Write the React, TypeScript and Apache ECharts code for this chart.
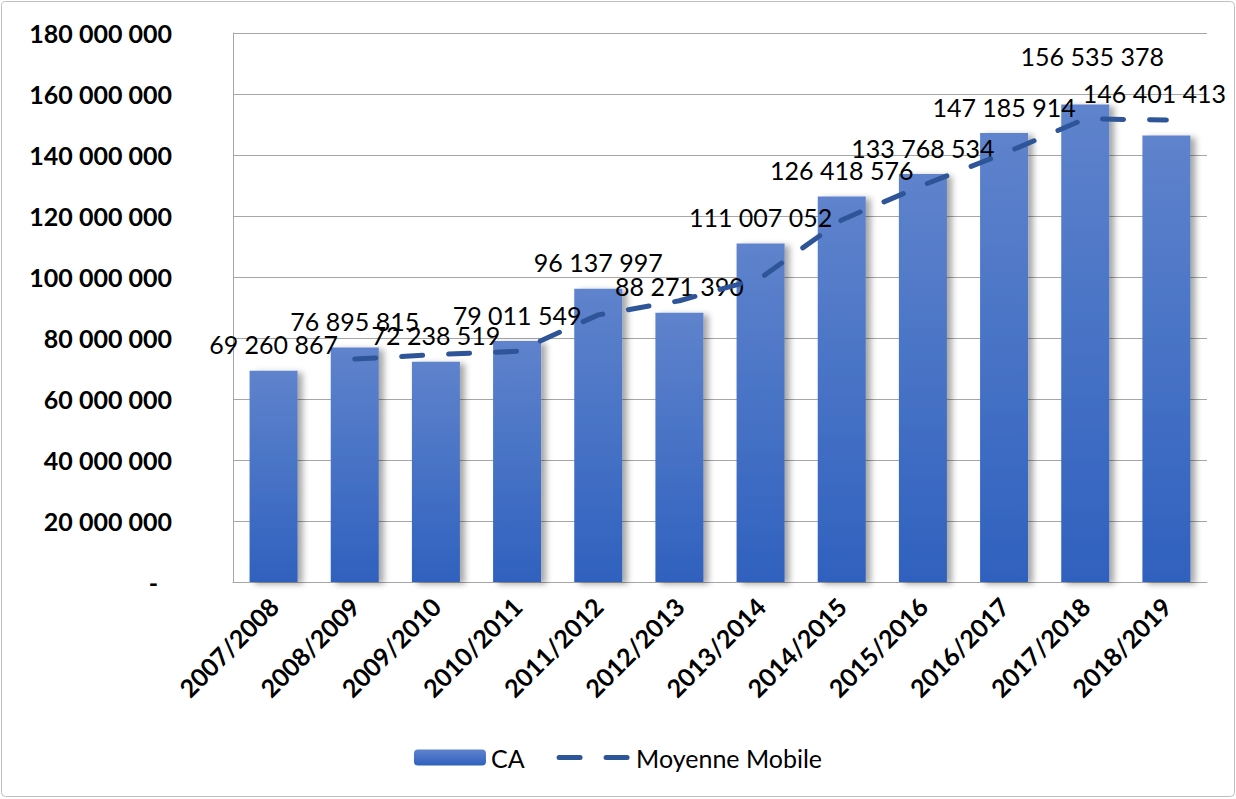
import React, { useEffect, useRef } from "react";
import * as echarts from "echarts";

const categories = [
  "2007/2008", "2008/2009", "2009/2010", "2010/2011", "2011/2012", "2012/2013",
  "2013/2014", "2014/2015", "2015/2016", "2016/2017", "2017/2018", "2018/2019",
];
const caValues = [
  69260867, 76895815, 72238519, 79011549, 96137997, 88271390,
  111007052, 126418576, 133768534, 147185914, 156535378, 146401413,
];
const movingAverage = [
  null, 73078341, 74567167, 75625034, 87574773, 92204694,
  99639221, 118712814, 130093555, 140477224, 151860646, 151468396,
];
const yMin = 0;
const yMax = 180000000;
const yStep = 20000000;

const fmt = (v: number) =>
  Math.round(v).toString().replace(/\B(?=(\d{3})+(?!\d))/g, " ");

const labelShift: Record<number, [number, number]> = {
  10: [7, -22],
  11: [-12, -16],
};

const lineStyleMA = {
  color: "#2E5597",
  width: 5,
  type: [21, 26] as number[],
  cap: "round",
};

export default function App() {
  const ref = useRef<HTMLDivElement>(null);
  useEffect(() => {
    document.body.style.margin = "0";
    const chart = echarts.init(ref.current!, null, { renderer: "svg" });
    const barGradient = new echarts.graphic.LinearGradient(0, 0, 0, 1, [
      { offset: 0, color: "#5F83CC" },
      { offset: 1, color: "#2F61BE" },
    ]);
    chart.setOption({
      animation: false,
      textStyle: { fontFamily: "Lato" },
      graphic: [
        {
          type: "rect",
          shape: { x: 1.5, y: 1.5, width: 1233, height: 795, r: 4 },
          style: { fill: "none", stroke: "#BFBFBF", lineWidth: 1 },
          silent: true,
        },
      ],
      grid: { left: 233, right: 29, top: 33, bottom: 217, containLabel: false },
      legend: {
        bottom: 24,
        left: "center",
        itemWidth: 72,
        itemHeight: 16,
        itemGap: 32,
        textStyle: { fontFamily: "Lato", fontSize: 25, color: "#000" },
        data: [
          { name: "CA" },
          {
            name: "Moyenne Mobile",
            itemStyle: { opacity: 0 },
            lineStyle: { ...lineStyleMA },
          },
        ],
      },
      xAxis: {
        type: "category",
        data: categories,
        axisLine: { show: true, lineStyle: { color: "#A6A6A6", width: 1 } },
        axisTick: { show: false },
        axisLabel: {
          rotate: 45,
          margin: 20,
          interval: 0,
          fontFamily: "Lato",
          fontWeight: "bold",
          fontSize: 25,
          color: "#000",
        },
      },
      yAxis: {
        type: "value",
        min: yMin,
        max: yMax,
        interval: yStep,
        axisLine: { show: true, lineStyle: { color: "#A6A6A6", width: 1 } },
        axisTick: { show: false },
        splitLine: { lineStyle: { color: "#A6A6A6", width: 1 } },
        axisLabel: {
          margin: 61,
          fontFamily: "Lato",
          fontWeight: "bold",
          fontSize: 25,
          color: "#000",
          formatter: (v: number) => (v === 0 ? "{d|-}" : fmt(v)),
          rich: {
            d: {
              fontFamily: "Lato",
              fontWeight: "bold",
              fontSize: 25,
              color: "#000",
              padding: [0, 14, 0, 0],
            },
          },
        },
      },
      series: [
        {
          name: "CA",
          type: "bar",
          barWidth: 48,
          data: caValues.map((v, i) =>
            labelShift[i]
              ? { value: v, label: { offset: labelShift[i] } }
              : { value: v }
          ),
          itemStyle: {
            color: barGradient,
            shadowColor: "rgba(0,0,0,0.35)",
            shadowBlur: 6,
            shadowOffsetX: 5,
            shadowOffsetY: 2,
          },
          label: {
            show: true,
            position: "top",
            distance: 14,
            fontFamily: "Lato",
            fontSize: 25,
            color: "#000",
            formatter: (p: any) => fmt(p.value),
          },
          z: 2,
        },
        {
          name: "Moyenne Mobile",
          type: "line",
          data: movingAverage,
          symbol: "none",
          connectNulls: false,
          lineStyle: { ...lineStyleMA },
          itemStyle: { color: "#2E5597" },
          z: 3,
        },
      ],
    });
    return () => chart.dispose();
  }, []);
  return <div ref={ref} style={{ width: 1236, height: 799 }} />;
}
